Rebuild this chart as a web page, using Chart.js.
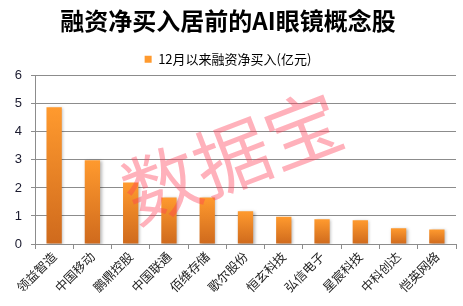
<!DOCTYPE html>
<html>
<head>
<meta charset="utf-8">
<script src="https://cdn.jsdelivr.net/npm/chart.js@4.4.1/dist/chart.umd.min.js"></script>
<style>
    html, body { margin: 0; padding: 0; background: #ffffff; }
    #container { width: 463px; height: 306px; }
</style>
</head>
<body>
<div id="container"><canvas id="myChart"></canvas></div>
<script>
const titleText = "融资净买入居前的AI眼镜概念股";
const seriesName = "12月以来融资净买入(亿元)";
const stocks = ["领益智造", "中国移动", "鹏鼎控股", "中国联通", "佰维存储", "歌尔股份",
    "恒玄科技", "弘信电子", "星宸科技", "中科创达", "恺英网络"];
const netBuy = [4.88, 2.99, 2.19, 1.66, 1.66, 1.17, 0.97, 0.88, 0.85, 0.56, 0.52];
const yTicks = [0, 1, 2, 3, 4, 5, 6];
const watermark = "数据宝";

const cjk = '"Noto Sans CJK SC", "Noto Sans", sans-serif';

// per bar gradient, light on top, darker at the bottom
function barColor(context) {
    const chart = context.chart;
    if (context.dataIndex === undefined || !chart.chartArea) return '#f28a24';
    const y = chart.scales.y;
    const top = y.getPixelForValue(netBuy[context.dataIndex]);
    const bottom = y.getPixelForValue(0);
    if (!(bottom > top)) return '#f28a24';
    const g = chart.ctx.createLinearGradient(0, top, 0, bottom);
    g.addColorStop(0, '#ff9a2e');
    g.addColorStop(1, '#cf6a1d');
    return g;
}

const barShadow = {
    id: 'barShadow',
    beforeDatasetsDraw: function (chart) {
        const ctx = chart.ctx;
        ctx.save();
        ctx.shadowColor = 'rgba(0, 0, 0, 0.28)';
        ctx.shadowBlur = 3;
        ctx.shadowOffsetX = 1.5;
        ctx.shadowOffsetY = 1;
    },
    afterDatasetsDraw: function (chart) {
        chart.ctx.restore();
    }
};

const stamp = {
    id: 'stamp',
    afterDatasetsDraw: function (chart) {
        const ctx = chart.ctx;
        ctx.save();
        ctx.translate(232, 157);
        ctx.rotate(-21 * Math.PI / 180);
        ctx.font = '76px ' + cjk;
        ctx.textAlign = 'center';
        ctx.textBaseline = 'middle';
        ctx.fillStyle = 'rgba(255, 60, 85, 0.4)';
        ctx.fillText(watermark, 0, 0);
        ctx.restore();
    }
};

var ctx_live = document.getElementById("myChart");
var myChart = new Chart(ctx_live, {
    type: "bar",
    data: {
        labels: stocks,
        datasets: [{
            label: seriesName,
            data: netBuy,
            backgroundColor: barColor,
            borderWidth: 0,
            categoryPercentage: 1,
            barPercentage: 0.4
        }]
    },
    options: {
        responsive: true,
        maintainAspectRatio: false,
        animation: false,
        layout: {
            padding: { left: 0, right: 7, top: 0, bottom: 0 }
        },
        scales: {
            x: {
                grid: {
                    display: true,
                    drawOnChartArea: false,
                    drawTicks: true,
                    tickLength: 5,
                    color: '#8c8c8c'
                },
                border: { display: true, color: '#8c8c8c' },
                ticks: {
                    minRotation: 45,
                    maxRotation: 45,
                    autoSkip: false,
                    padding: 0,
                    color: '#222222',
                    font: { size: 12.5, family: cjk }
                },
                afterFit: function (scale) {
                    scale.height = 62;
                }
            },
            y: {
                min: 0,
                max: 6,
                afterBuildTicks: function (scale) {
                    scale.ticks = yTicks.map(v => ({ value: v }));
                },
                grid: {
                    color: '#8c8c8c',
                    drawTicks: true,
                    tickLength: 4
                },
                border: { display: true, color: '#8c8c8c' },
                ticks: {
                    padding: 9,
                    color: '#1a1a2e',
                    font: { size: 13, family: '"Liberation Sans", Arial, sans-serif' }
                },
                afterFit: function (scale) {
                    scale.width = 35;
                }
            }
        },
        plugins: {
            title: {
                display: true,
                text: titleText,
                color: '#000000',
                font: { size: 24, weight: 'bold', family: cjk },
                padding: { top: 6, bottom: 6 }
            },
            legend: {
                display: true,
                labels: {
                    boxWidth: 7,
                    boxHeight: 7,
                    color: '#000000',
                    font: { size: 13, family: cjk },
                    padding: 12
                }
            },
            tooltip: { enabled: false }
        }
    },
    plugins: [barShadow, stamp]
});
</script>
</body>
</html>
